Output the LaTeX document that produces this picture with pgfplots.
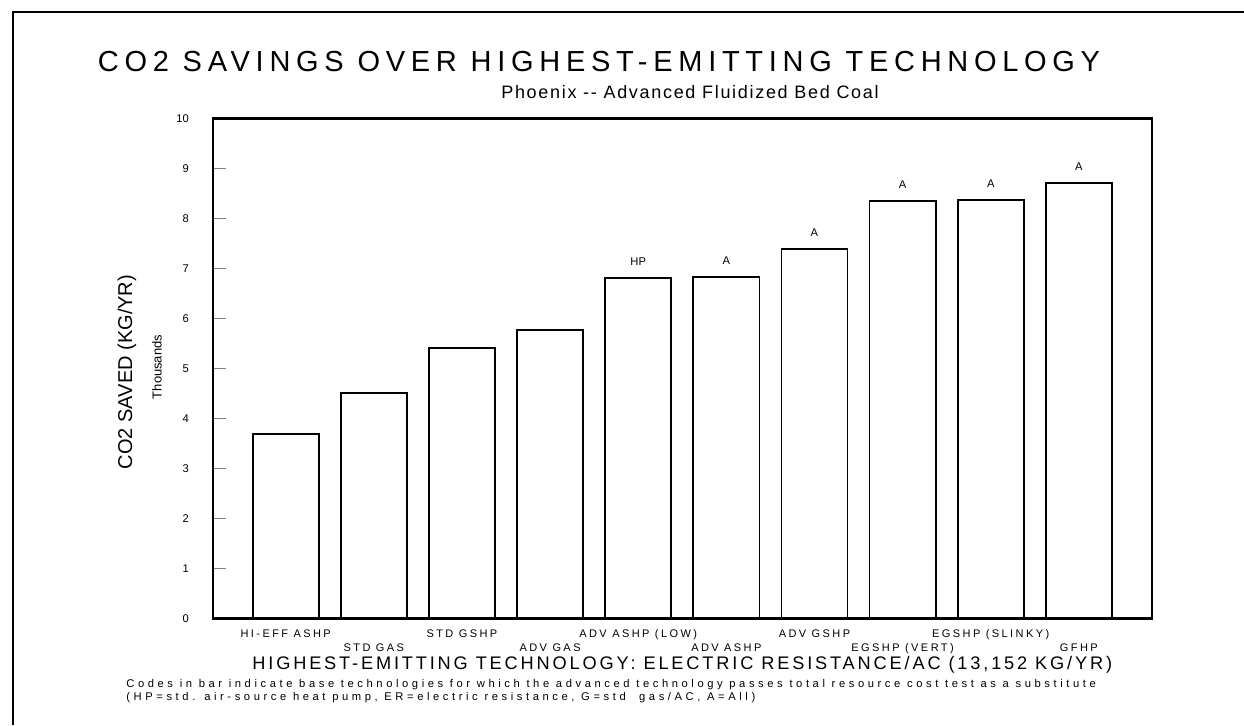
\documentclass[border=0pt]{standalone}
\usepackage{fontspec}
\setmainfont{Liberation Sans}
\usepackage{pgfplots}
\pgfplotsset{compat=1.18}
\begin{document}
\begin{tikzpicture}
\path[use as bounding box] (0,0) rectangle (622pt,362.5pt);
\draw[line width=1.2pt] (6.6pt,0) -- (6.6pt,356.5pt) -- (622pt,356.5pt);
\begin{axis}[
  at={(106.5pt,53.35pt)}, anchor=south west,
  scale only axis, width=469.5pt, height=250pt,
  xmin=-0.825, xmax=9.83, ymin=0, ymax=10,
  ytick={0,1,...,10},
  ytick pos=left, tick align=inside, major tick length=6.5pt,
  ytick style={line width=0.8pt},
  axis line style={line width=1.3pt},
  /pgf/number format/assume math mode=true,
  yticklabel style={font=\fontsize{5.6}{6}\selectfont, xshift=-8.6pt},
  xtick={0,2,4,6,8},
  xticklabels={HI-EFF ASHP, STD GSHP, ADV ASHP (LOW), ADV GSHP, EGSHP (SLINKY)},
  xtick style={draw=none},
  xticklabel style={font=\fontsize{5.5}{6}\selectfont\addfontfeatures{LetterSpace=22}, yshift=-2.2pt},
  extra x ticks={1,3,5,7,9},
  extra x tick labels={STD GAS, ADV GAS, ADV ASHP, EGSHP (VERT), GFHP},
  extra x tick style={major tick length=0pt, xticklabel style={yshift=-7pt}},
]
\addplot[ybar, bar width=0.75, fill=white, draw=black, line width=0.9pt]
  coordinates {(0,3.69) (1,4.51) (2,5.41) (3,5.76) (4,6.80) (5,6.82) (6,7.39) (7,8.35) (8,8.37) (9,8.70)};
\addplot[draw=none, nodes near coords, point meta=explicit symbolic,
  every node near coord/.style={anchor=center, yshift=8.2pt, font=\fontsize{5.6}{6}\selectfont}]
  coordinates {(4,6.80) [HP] (5,6.82) [A] (6,7.39) [A] (7,8.35) [A] (8,8.37) [A] (9,8.70) [A]};
\end{axis}
\begin{scope}[x=0.5pt, y=-0.5pt, yshift=362.5pt]
\node[anchor=base, inner sep=0pt] at (599,71.4) {\fontsize{14.5}{16}\selectfont\addfontfeatures{LetterSpace=19.7}CO2 SAVINGS OVER HIGHEST-EMITTING TECHNOLOGY};
\node[anchor=base, inner sep=0pt] at (690,98.5) {\fontsize{9}{11}\selectfont\addfontfeatures{LetterSpace=9.4}Phoenix -{}- Advanced Fluidized Bed Coal};
\node[rotate=90, inner sep=0pt] at (127,372) {\fontsize{10}{12}\selectfont CO2 SAVED (KG/YR)};
\node[rotate=90, inner sep=0pt] at (157,367) {\fontsize{6.5}{8}\selectfont Thousands};
\node[anchor=base west, inner sep=0pt] at (252,669.5) {\fontsize{9.1}{11}\selectfont\addfontfeatures{LetterSpace=15.6}HIGHEST-EMITTING TECHNOLOGY: ELECTRIC RESISTANCE/AC (13,152 KG/YR)};
\node[anchor=base west, inner sep=0pt] at (126,687) {\fontsize{5.6}{7}\selectfont\addfontfeatures{LetterSpace=32}Codes in bar indicate base technologies for which the advanced technology passes total resource cost test as a substitute};
\node[anchor=base west, inner sep=0pt] at (126,700) {\fontsize{5.6}{7}\selectfont\addfontfeatures{LetterSpace=32}(HP=std. air-source heat pump, ER=electric resistance, G=std\ \ gas/AC, A=All)};
\end{scope}
\end{tikzpicture}
\end{document}
